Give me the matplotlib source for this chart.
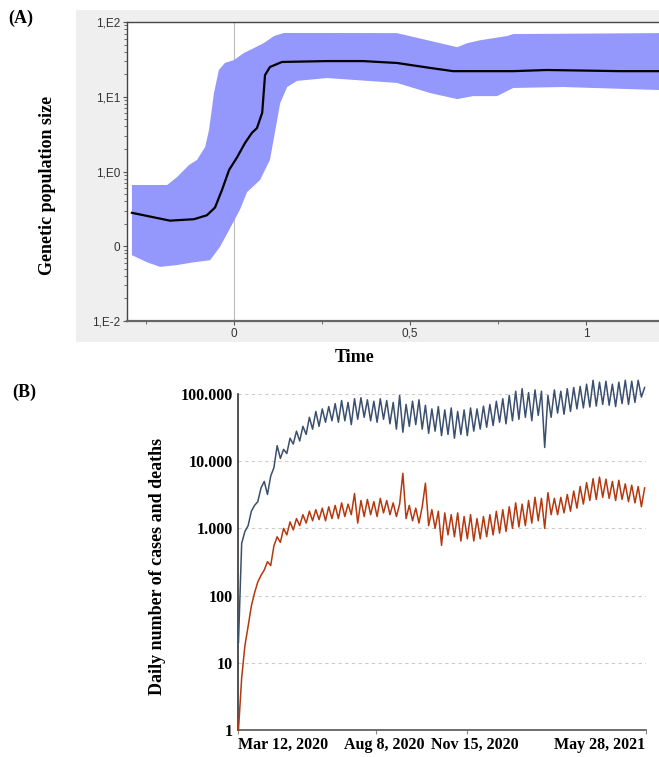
import matplotlib
matplotlib.use("Agg")
import matplotlib.pyplot as plt
import matplotlib.ticker as mticker
import numpy as np
import pandas as pd

# ---- Panel A: skyline (time, population size) ----
a_time_med = [-0.290, -0.182, -0.114, -0.077, -0.054, -0.034, -0.014, 0.009, 0.031,
              0.051, 0.065, 0.080, 0.088, 0.102, 0.136, 0.264, 0.366, 0.463, 0.557,
              0.622, 0.793, 0.889, 1.097, 1.207]
a_median = [0.28, 0.22, 0.23, 0.26, 0.33, 0.57, 1.05, 1.56, 2.4,
            3.3, 3.8, 6.1, 19.5, 25, 29.2, 30, 30, 28.3, 24.3,
            22, 22, 22.8, 22, 22]

a_time_up = [-0.290, -0.190, -0.162, -0.128, -0.105, -0.082, -0.071, -0.057, -0.043,
             -0.026, 0.000, 0.028, 0.057, 0.085, 0.114, 0.142, 0.264, 0.463, 0.634,
             0.662, 0.699, 0.776, 0.793, 1.207]
a_upper = [0.66, 0.66, 0.84, 1.22, 1.43, 2.13, 3.6, 11.2, 22.8,
           28.3, 31, 38.5, 44.9, 52.4, 65, 71.3, 71.3, 71, 46,
           52, 57, 65, 69, 71]

a_time_lo = [-0.290, -0.247, -0.210, -0.162, -0.114, -0.068, -0.040, -0.011, 0.017,
             0.037, 0.074, 0.102, 0.116, 0.131, 0.151, 0.179, 0.264, 0.463, 0.557,
             0.634, 0.679, 0.747, 0.793, 0.935, 1.207]
a_lower = [0.076, 0.061, 0.053, 0.056, 0.061, 0.065, 0.098, 0.175, 0.31,
           0.53, 0.77, 1.43, 3.3, 8.2, 13.5, 16.3, 17.8, 15.3, 11.2,
           9.3, 10.2, 10.2, 13.1, 13.5, 12.3]

a_yticks = [1e-2, 1e-1, 1e0, 1e1, 1e2]
a_ylabels = ["1,E-2", "0", "1,E0", "1,E1", "1,E2"]
a_xticks = [0, 0.5, 1]
a_xlabels = ["0", "0,5", "1"]

# ---- Panel B: daily cases and deaths (half-week samples) ----
b_dates = pd.date_range("2020-03-12", periods=127, freq="84h")
b_cases = [20, 600, 900, 1100, 1800, 2200, 2500, 4000, 5000, 3200, 6000, 8000,
           17000, 11000, 15000, 13000, 22000, 18000, 28000, 20000, 33000, 25000,
           45000, 30000, 55000, 33000, 60000, 38000, 65000, 40000,
           72000, 38000, 80000, 40000, 75000, 35000, 85000, 42000, 88000, 45000,
           82000, 40000, 78000, 38000, 85000, 42000, 80000, 36000, 75000, 30000,
           95000, 27000, 70000, 33000, 78000, 35000, 82000, 30000,
           68000, 26000, 60000, 28000, 65000, 24000, 58000, 25000, 62000, 22000,
           55000, 25000, 58000, 24000, 62000, 28000, 60000, 30000, 66000, 32000,
           70000, 34000, 78000, 38000, 85000, 36000, 95000, 40000,
           110000, 42000, 120000, 45000, 105000, 40000, 115000, 48000,
           110000, 16000, 95000, 45000,
           115000, 52000, 110000, 50000, 120000, 55000, 125000, 60000, 130000, 62000,
           140000, 64000,
           160000, 66000, 150000, 70000, 155000, 68000, 140000, 65000, 150000, 72000,
           160000, 70000, 155000, 75000, 160000, 90000, 125000]
b_deaths = [1, 6, 18, 35, 70, 110, 160, 200, 240, 320, 280, 550,
            750, 620, 1000, 800, 1250, 950, 1400, 1100, 1600, 1200, 1800, 1300,
            1900, 1350, 2000, 1300, 2100, 1400,
            2200, 1400, 2400, 1500, 2300, 1600, 3300, 1200, 2600, 1500,
            2700, 1600, 2500, 1500, 2800, 1700, 2600, 1600, 2400, 1500,
            2300, 6600, 1400, 2200, 1300, 2000, 1200, 2100,
            4700, 1100, 1900, 1000, 1800, 560, 1700, 800, 1600, 750,
            1700, 650, 1500, 700, 1600, 650, 1400, 700, 1500, 750,
            1600, 800, 1800, 850, 1900, 900, 2100, 1000,
            2400, 1050, 2300, 1100, 2600, 1200, 2900, 1300,
            2800, 1000, 3400, 1600,
            2800, 1600, 2900, 1700, 3200, 1800, 3600, 2000, 4200, 2300, 4800, 2600,
            5500, 2700, 5800, 2900, 5400, 2800, 5000, 2600, 5200, 2700, 4600, 2500,
            4400, 2400, 4200, 2100, 4000]
b_yticks = [1, 10, 100, 1000, 10000, 100000]
b_ylabels = ["1", "10", "100", "1.000", "10.000", "100.000"]
b_xticks = pd.to_datetime(["2020-03-12", "2020-08-08", "2020-11-15", "2021-05-28"])
b_xlabels = ["Mar 12, 2020", "Aug 8, 2020", "Nov 15, 2020", "May 28, 2021"]

colors = {
    'band': '#9497fb',
    'median': '#000000',
    'cases': '#3b4f6e',
    'deaths': '#b5380f',
    'panel_bg': '#efefef',
    'grid': '#cccccc',
}
serif = 'Liberation Serif'

fig = plt.figure(figsize=(6.59, 7.57), dpi=100)
W, H = 659.0, 757.0

# grey backdrop behind panel A (its own axes, kept at the back)
bg = fig.add_axes([76 / W, 1 - 342 / H, 1 - 76 / W, 332 / H])
bg.set_zorder(0)
bg.set_facecolor(colors['panel_bg'])
bg.set_xticks([])
bg.set_yticks([])
for s in bg.spines.values():
    s.set_visible(False)

# ---------- Panel A ----------
axA = fig.add_axes([127 / W, 1 - 321 / H, (W - 127) / W, 299 / H])
axA.set_zorder(1)
poly_x = list(a_time_up) + list(a_time_lo[::-1])
poly_y = list(a_upper) + list(a_lower[::-1])
axA.fill(poly_x, poly_y, color=colors['band'], lw=0, zorder=2)
axA.plot(a_time_med, a_median, color=colors['median'], lw=1.6, zorder=3)
axA.axvline(0, color='#bbbbbb', lw=0.8, zorder=1)
axA.set_yscale('log')
axA.set_ylim(1e-2, 1e2)
axA.set_xlim(-0.304, 1.207)
axA.set_yticks(a_yticks)
axA.set_yticklabels(a_ylabels)
axA.yaxis.set_minor_locator(mticker.LogLocator(base=10, subs=np.arange(2, 10)))
axA.yaxis.set_minor_formatter(mticker.NullFormatter())
axA.set_xticks(a_xticks)
axA.set_xticklabels(a_xlabels)
axA.set_xticks([-0.25, 0.25, 0.75], minor=True)
for lab in axA.get_xticklabels() + axA.get_yticklabels():
    lab.set_fontfamily('Liberation Sans')
    lab.set_fontsize(8.5)
    lab.set_color('#333333')
axA.tick_params(axis='both', which='major', length=3, width=0.8, color='#555555', pad=2)
axA.tick_params(axis='y', which='minor', length=2, width=0.6, color='#555555')
axA.tick_params(axis='x', which='minor', length=2, width=0.6, color='#555555')
axA.spines['right'].set_visible(False)
for s in ['left', 'top']:
    axA.spines[s].set_color('#444444')
    axA.spines[s].set_linewidth(1.0)
axA.spines['bottom'].set_color('#666666')
axA.spines['bottom'].set_linewidth(1.6)

fig.text(8 / W, 1 - 18 / H, '(A)', fontfamily=serif, fontweight='bold', fontsize=13,
         ha='left', va='center')
fig.text(48 / W, 1 - 185 / H, 'Genetic population size', fontfamily=serif,
         fontweight='bold', fontsize=13, rotation=90, ha='center', va='center')
fig.text(355 / W, 1 - 358 / H, 'Time', fontfamily=serif, fontweight='bold', fontsize=13,
         ha='center', va='center')

# ---------- Panel B ----------
axB = fig.add_axes([238 / W, 1 - 730 / H, (646 - 238) / W, 336 / H])
axB.plot(b_dates, b_cases, color=colors['cases'], lw=1.1, zorder=3, clip_on=False)
axB.plot(b_dates, b_deaths, color=colors['deaths'], lw=1.1, zorder=3, clip_on=False)
axB.set_yscale('log')
axB.set_ylim(1, 1e5)
axB.set_xlim(pd.Timestamp("2020-03-11 12:00"), pd.Timestamp("2021-05-28 12:00"))
axB.set_yticks(b_yticks)
axB.set_yticklabels(b_ylabels)
axB.yaxis.set_minor_locator(mticker.NullLocator())

# major ticks carry the marks; the two middle labels sit a bit right of their
# ticks in the original, so they ride on tickless minor ticks 9 days later
axB.set_xticks(b_xticks)
axB.set_xticklabels([b_xlabels[0], "", "", b_xlabels[-1]])
axB.set_xticks(b_xticks[1:3] + pd.Timedelta(days=9), minor=True)
axB.set_xticklabels(b_xlabels[1:3], minor=True)

for t in b_yticks[1:]:
    axB.axhline(t, color=colors['grid'], lw=0.8, ls=(0, (3, 3)), zorder=1)
for lab in (axB.get_xticklabels() + axB.get_xticklabels(minor=True)
            + axB.get_yticklabels()):
    lab.set_fontfamily(serif)
    lab.set_fontweight('bold')
    lab.set_fontsize(11.5)
xl = axB.get_xticklabels()
xl[0].set_ha('left')
xl[-1].set_ha('right')
axB.tick_params(axis='y', length=0, pad=4)
axB.tick_params(axis='x', which='major', length=3, width=0.8, color='#888888', pad=2)
axB.tick_params(axis='x', which='minor', length=0, pad=5)
axB.spines['right'].set_visible(False)
axB.spines['top'].set_visible(False)
axB.spines['left'].set_color('#333333')
axB.spines['left'].set_linewidth(1.2)
axB.spines['bottom'].set_color('#555555')
axB.spines['bottom'].set_linewidth(1.2)

fig.text(12 / W, 1 - 392 / H, '(B)', fontfamily=serif, fontweight='bold', fontsize=13,
         ha='left', va='center')
fig.text(158 / W, 1 - 566 / H, 'Daily number of cases and deaths', fontfamily=serif,
         fontweight='bold', fontsize=13, rotation=90, ha='center', va='center')

fig.savefig('out.png', dpi=100, facecolor='white')
